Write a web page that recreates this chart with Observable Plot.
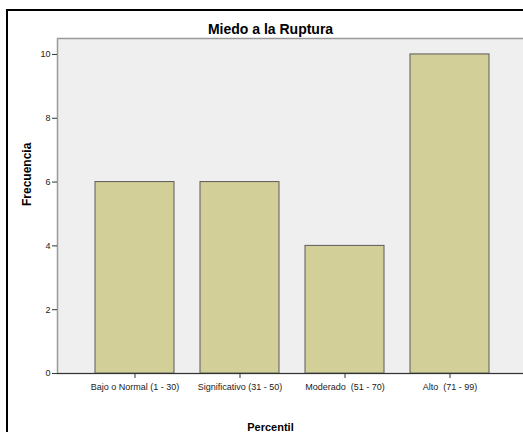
<!DOCTYPE html>
<html><head><meta charset="utf-8">
<script src="https://cdn.jsdelivr.net/npm/d3@7"></script>
<script src="https://cdn.jsdelivr.net/npm/@observablehq/plot@0.6"></script>
<style>
body{margin:0;background:#fff;}
#wrap{position:relative;width:523px;height:432px;overflow:hidden;background:#fff;font-family:Arial,"Liberation Sans",sans-serif;}
#border{position:absolute;left:6px;top:9px;width:700px;height:700px;border:2px solid #000;box-sizing:border-box;}
#chart{position:absolute;left:0;top:0;width:540px;height:432px;}
#chart svg{max-width:none !important;}
</style></head>
<body><div id="wrap"><div id="border"></div><div id="chart"></div></div>
<script>
const categories = ["Bajo o Normal (1 - 30)", "Significativo (31 - 50)", "Moderado  (51 - 70)", "Alto  (71 - 99)"];
const frequencies = [6, 6, 4, 10];
const yTicks = [0, 2, 4, 6, 8, 10];
const title = "Miedo a la Ruptura";
const xLabel = "Percentil";
const yLabel = "Frecuencia";

const data = categories.map((c, i) => ({cat: c, n: frequencies[i]}));

const chart = Plot.plot({
  width: 540, height: 432,
  marginLeft: 57, marginTop: 38, marginBottom: 59, marginRight: 13,
  style: {fontFamily: "Arial, 'Liberation Sans', sans-serif", fontSize: "9px", background: "transparent", color: "#222", maxWidth: "none"},
  x: {domain: categories, paddingInner: 0.245, paddingOuter: 0.34, label: null},
  y: {domain: [0, 10.5], label: null},
  marks: [
    Plot.frame({fill: "#efefef", stroke: "#9a9a9a", strokeWidth: 1.5}),
    Plot.barY(data, {x: "cat", y: "n", fill: "#d3cf98", stroke: "#5a5a5a", strokeWidth: 1}),
    Plot.ruleY([0], {stroke: "#333", strokeWidth: 1.2}),
    Plot.axisY({ticks: yTicks, tickSize: 5, tickPadding: 2, tickFormat: d3.format("d"), fontSize: 9, stroke: "#333", label: null}),
    Plot.axisX({tickSize: 5, tickPadding: 5, fontSize: 9, stroke: "#333", label: null}),
    Plot.text([title], {frameAnchor: "top", lineAnchor: "middle", dx: -22, dy: -9, fontSize: 14, fontWeight: "bold", fill: "#000"}),
    Plot.text([yLabel], {frameAnchor: "left", lineAnchor: "middle", dx: -30, rotate: -90, fontSize: 12, fontWeight: "bold", fill: "#000"}),
    Plot.text([xLabel], {frameAnchor: "bottom", lineAnchor: "middle", dx: -22, dy: 54, fontSize: 11, fontWeight: "bold", fill: "#000"})
  ]
});
document.getElementById("chart").appendChild(chart);
</script></body></html>
